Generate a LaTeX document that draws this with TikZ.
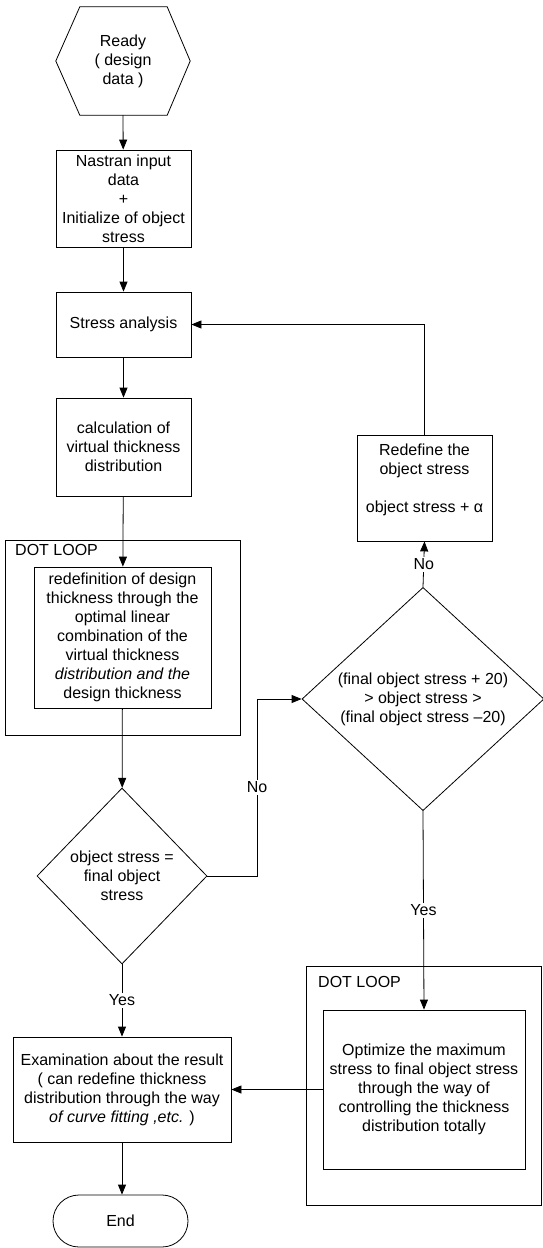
\documentclass[tikz,border=0pt]{standalone}
\usepackage{fontspec}
\setmainfont{Liberation Sans}
\usetikzlibrary{shapes, arrows.meta, positioning, calc}

\begin{document}
\begin{tikzpicture}[
  x=1pt, y=-1pt,
  every node/.style={font=\fontsize{16}{19}\selectfont},
  fbox/.style={draw, align=center, inner sep=0pt, line width=0.8pt},
  dbox/.style={draw, diamond, align=center, inner sep=0pt, line width=0.8pt},
  loopbox/.style={draw, line width=0.8pt},
  flow/.style={-{Triangle[length=10pt, width=8pt]}, line width=0.8pt},
  conn/.style={line width=0.8pt},
  lbl/.style={fill=white, inner sep=2pt}
]
  \useasboundingbox (0,0) rectangle (543,1248);

  \node[align=center, minimum width=134pt, minimum height=108pt] (ready) at (123,61) {Ready\\( design\\data )};
  \draw[conn] (ready.west) -- ([xshift=24pt]ready.north west) -- ([xshift=-23pt]ready.north east) -- (ready.east)
    -- ([xshift=-23pt]ready.south east) -- ([xshift=24pt]ready.south west) -- cycle;

  \node[fbox, minimum width=135pt, minimum height=97pt] (nastran) at (123.5,198.5) {Nastran input\\data\\+\\Initialize of object\\stress};
  \node[fbox, minimum width=135pt, minimum height=65pt] (stress) at (123.5,324.5) {Stress analysis};
  \node[fbox, minimum width=135pt, minimum height=98pt] (calc) at (123.5,447) {calculation of\\virtual thickness\\distribution};

  \node[loopbox, minimum width=235pt, minimum height=195pt] (loopa) at (122.5,637.5) {};
  \node[anchor=west, inner sep=0pt] (loopatitle) at (15,550) {DOT LOOP};
  \node[fbox, minimum width=177pt, minimum height=141pt] (redef) at (122.5,637.5) {redefinition of design\\thickness through the\\optimal linear\\combination of the\\virtual thickness\\\textit{distribution and the}\\design thickness};

  \node[dbox, minimum width=170pt, minimum height=176pt] (check) at (122,876) {object stress =\\final object\\stress};
  \node[fbox, minimum width=218pt, minimum height=105pt] (examine) at (122,1089.5) {Examination about the result\\( can redefine thickness\\distribution through the way\\\textit{of curve fitting ,etc.} )};
  \node[fbox, rounded rectangle, minimum width=135pt, minimum height=52pt] (finish) at (120.5,1221) {End};

  \node[dbox, minimum width=242pt, minimum height=212pt] (range) at (423,699) {(final object stress + 20)\\> object stress >\\(final object stress –20)};
  \node[fbox, minimum width=135pt, minimum height=106pt] (restress) at (424.5,488) {Redefine the\\object stress\\[19pt]object stress + α\\~};

  \node[loopbox, minimum width=235pt, minimum height=239pt] (loopb) at (423.5,1085.5) {};
  \node[anchor=west, inner sep=0pt] (loopbtitle) at (318,982) {DOT LOOP};
  \node[fbox, minimum width=202pt, minimum height=159pt] (optimize) at (424,1089.5) {Optimize the maximum\\stress to final object stress\\through the way of\\controlling the thickness\\distribution totally};

  \coordinate (turn) at (257,699);

  \draw[flow] (ready.south) -- (nastran);
  \draw[flow] (nastran) -- (stress);
  \draw[flow] (stress) -- (calc);
  \draw[flow] (calc) -- (redef);
  \draw[flow] (redef) -- (check);
  \draw[flow] (check.south) -- node[lbl] {Yes} (examine.north);
  \draw[flow] (examine.south) -- (examine.south |- finish.north);
  \draw[conn] (check.east) -| node[lbl, pos=0.75] {No} (turn);
  \draw[flow] (turn) -- (range.west);
  \draw[flow] (range.north) -- node[lbl] {No} (restress.south);
  \draw[flow] (restress.north) |- (stress.east);
  \draw[flow] (range.south) -- node[lbl] {Yes} (optimize.north);
  \draw[flow] (optimize.west) -- (examine.east);
\end{tikzpicture}
\end{document}
